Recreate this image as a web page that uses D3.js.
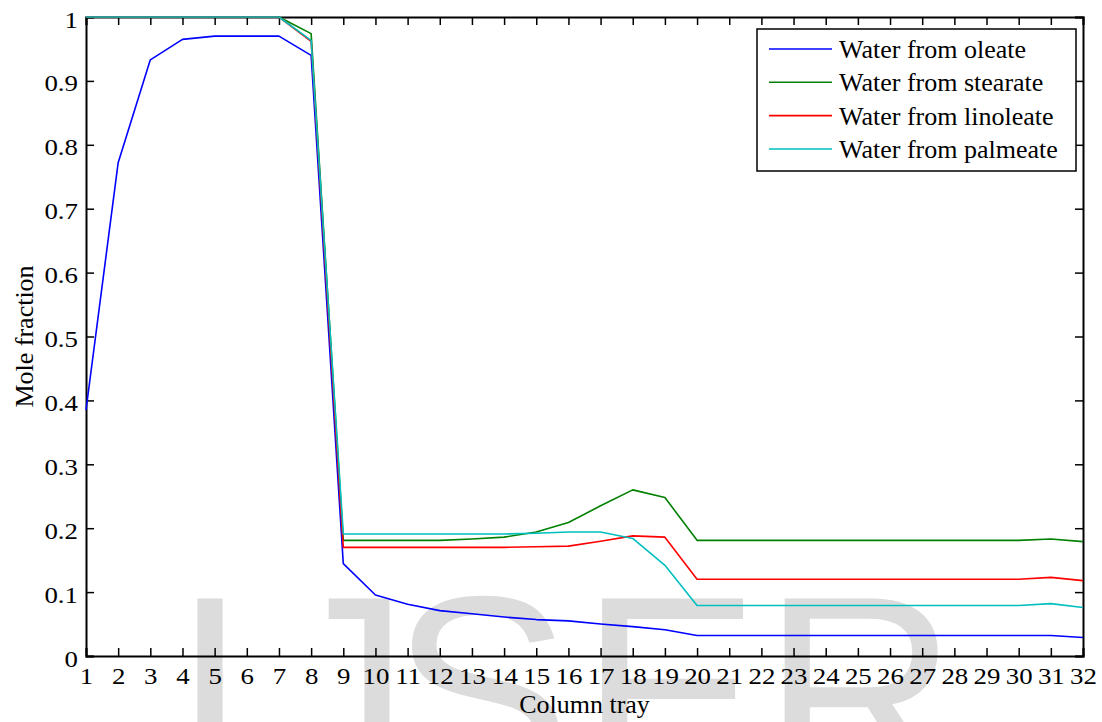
<!DOCTYPE html>
<html>
<head>
<meta charset="utf-8">
<script src="https://cdn.jsdelivr.net/npm/d3@7"></script>
<style>
html,body{margin:0;padding:0;background:#fff;}
svg{display:block;}
text{font-family:"Liberation Serif","Times New Roman",serif;}
</style>
</head>
<body>
<svg id="chart" width="1102" height="722"></svg>
<script>
const trays = d3.range(1, 33);
const oleate = [0.385,0.772,0.933,0.965,0.970,0.970,0.970,0.940,0.1445,0.0955,0.081,0.071,0.066,0.061,0.057,0.055,0.050,0.046,0.041,0.032,0.032,0.032,0.032,0.032,0.032,0.032,0.032,0.032,0.032,0.032,0.032,0.029];
const stearate = [1,1,1,1,1,1,1,0.974,0.181,0.181,0.181,0.181,0.183,0.186,0.194,0.209,0.235,0.260,0.248,0.181,0.181,0.181,0.181,0.181,0.181,0.181,0.181,0.181,0.181,0.181,0.183,0.179];
const linoleate = [1,1,1,1,1,1,1,0.962,0.170,0.170,0.170,0.170,0.170,0.170,0.171,0.172,0.1795,0.188,0.186,0.120,0.120,0.120,0.120,0.120,0.120,0.120,0.120,0.120,0.120,0.120,0.123,0.118];
const palmeate = [1,1,1,1,1,1,1,0.9635,0.191,0.191,0.191,0.191,0.191,0.191,0.192,0.194,0.194,0.184,0.142,0.079,0.079,0.079,0.079,0.079,0.079,0.079,0.079,0.079,0.079,0.079,0.082,0.076];
const seriesNames = ["Water from oleate","Water from stearate","Water from linoleate","Water from palmeate"];
const seriesColors = ["#0000ff","#008000","#ff0000","#00bfbf"];
const yTicks = [0,0.1,0.2,0.3,0.4,0.5,0.6,0.7,0.8,0.9,1];
const yTickLabels = ["0","0.1","0.2","0.3","0.4","0.5","0.6","0.7","0.8","0.9","1"];
const xLabel = "Column tray";
const yLabel = "Mole fraction";
const watermark = ["I","J","S","E","R"];

const allSeries = [oleate, stearate, linoleate, palmeate];

const svg = d3.select("#chart");
svg.append("rect").attr("width",1102).attr("height",722).attr("fill","#fff");

const L = 86, R = 1083, T = 17, B = 656;
const x = d3.scaleLinear().domain([1,32]).range([L,R]);
const y = d3.scaleLinear().domain([0,1]).range([B,T]);

// watermark
const wmX = [210, 342, 481, 670, 860];
svg.append("g").selectAll("text").data(watermark).join("text")
  .attr("x",(d,i)=>wmX[i]).attr("y",591 + 0.716*270)
  .attr("text-anchor","middle")
  .style("font-family","'Liberation Sans',Arial,sans-serif")
  .style("font-size","270px")
  .attr("fill","#dcdcdc")
  .text(d=>d);

const tickFont = "24px";
const sx = 1.12;

// bottom axis
const gB = svg.append("g").attr("transform",`translate(0,${B})`)
  .call(d3.axisBottom(x).tickValues(trays).tickFormat(d3.format("d")).tickSize(-8).tickPadding(11));
// top axis
const gT = svg.append("g").attr("transform",`translate(0,${T})`)
  .call(d3.axisTop(x).tickValues(trays).tickFormat("").tickSize(-8));
// left axis
const gL = svg.append("g").attr("transform",`translate(${L},0)`)
  .call(d3.axisLeft(y).tickValues(yTicks).tickFormat((d,i)=>yTickLabels[i]).tickSize(-8).tickPadding(8));
// right axis
const gR = svg.append("g").attr("transform",`translate(${R},0)`)
  .call(d3.axisRight(y).tickValues(yTicks).tickFormat("").tickSize(-8));

[gB,gT,gL,gR].forEach(g=>{
  g.select(".domain").attr("stroke","#000").attr("stroke-width",2);
  g.selectAll(".tick line").attr("stroke","#000").attr("stroke-width",1.5);
  g.selectAll(".tick text").attr("fill","#000").style("font-size",tickFont)
   .style("font-family","'Liberation Serif','Times New Roman',serif");
});
gB.selectAll(".tick text").attr("transform",`scale(${sx},1)`);
gL.selectAll(".tick text").attr("dy","0.42em").attr("x",-8/sx).attr("transform",`scale(${sx},1)`);

// lines
const line = d3.line().x((d,i)=>x(trays[i])).y(d=>y(d));
svg.append("g").selectAll("path").data(allSeries).join("path")
  .attr("d",d=>line(d))
  .attr("fill","none")
  .attr("stroke",(d,i)=>seriesColors[i])
  .attr("stroke-width",1.6)
  .attr("stroke-linejoin","round");

// axis labels
svg.append("text").attr("x",(L+R)/2).attr("y",713).attr("text-anchor","middle")
  .style("font-size","26px").attr("fill","#000").text(xLabel);
svg.append("text").attr("transform",`translate(33,${(T+B)/2}) rotate(-90)`).attr("text-anchor","middle")
  .style("font-size","26px").attr("fill","#000").text(yLabel);

// legend
const lg = svg.append("g");
lg.append("rect").attr("x",757).attr("y",29).attr("width",319).attr("height",142)
  .attr("fill","#fff").attr("stroke","#000").attr("stroke-width",1.5);
const rowY = [49,82.3,115.6,149];
const items = lg.selectAll("g.item").data(seriesNames).join("g").attr("class","item");
items.append("line").attr("x1",769).attr("x2",832).attr("y1",(d,i)=>rowY[i]).attr("y2",(d,i)=>rowY[i])
  .attr("stroke",(d,i)=>seriesColors[i]).attr("stroke-width",1.6);
items.append("text").attr("x",839).attr("y",(d,i)=>rowY[i]+9)
  .style("font-size","26px").attr("fill","#000").text(d=>d);
</script>
</body>
</html>
